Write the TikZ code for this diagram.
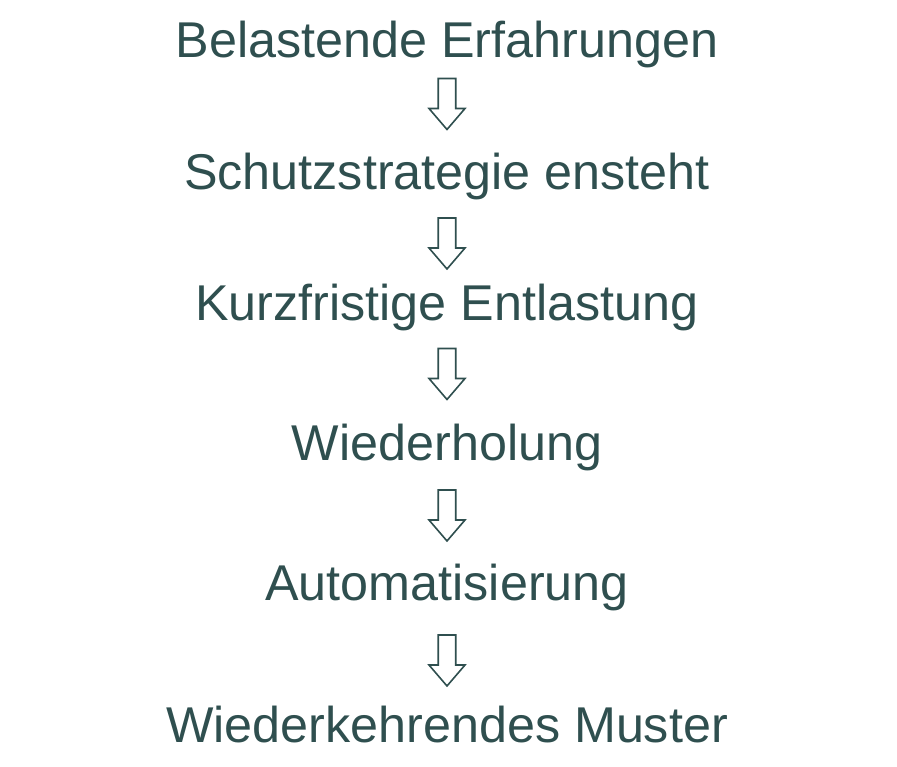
\documentclass[tikz,border=0pt]{standalone}
\usepackage{fontspec}
\setmainfont{Liberation Sans}
\definecolor{txt}{RGB}{47,79,79}
\begin{document}
\begin{tikzpicture}[x=1pt,y=-1pt,
  lbl/.style={anchor=base,inner sep=0pt,text=txt,font=\fontsize{50.3}{60}\selectfont},
  arrowline/.style={draw=txt,line width=1.6pt,fill=white,line join=miter}]
\useasboundingbox (0,0) rectangle (897,767);
\node[lbl] (t1) at (447,57.5) {Belastende Erfahrungen};
\node[lbl] (t2) at (447,189.5) {Schutzstrategie ensteht};
\node[lbl] (t3) at (447,320) {Kurzfristige Entlastung};
\node[lbl] (t4) at (447,460) {Wiederholung};
\node[lbl] (t5) at (447,600) {Automatisierung};
\node[lbl] (t6) at (447,742.5) {Wiederkehrendes Muster};
\coordinate (a1) at (447,78.5);
\coordinate (a2) at (447,218);
\coordinate (a3) at (447,348.5);
\coordinate (a4) at (447,490);
\coordinate (a5) at (447,635);
\foreach \a in {a1,a2,a3,a4,a5}{
  \begin{scope}[shift={(\a)}]
    \draw[arrowline] (-8.75,0) -- (8.75,0) -- (8.75,30) -- (18,30) -- (0,51) -- (-18,30) -- (-8.75,30) -- cycle;
  \end{scope}
}
\end{tikzpicture}
\end{document}
